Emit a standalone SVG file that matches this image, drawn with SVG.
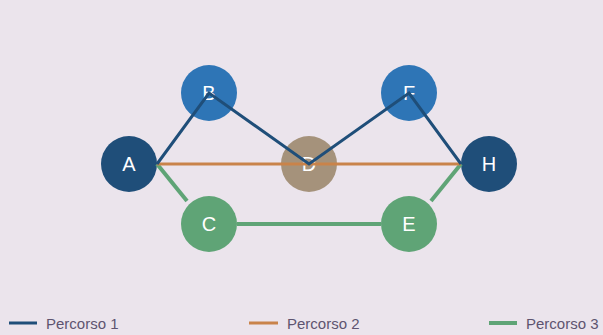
<svg xmlns="http://www.w3.org/2000/svg" width="603" height="335" viewBox="0 0 603 335">
<style>
.lbl{font-family:"Liberation Sans",Arial,sans-serif;font-size:20px;fill:#ffffff;text-anchor:middle}
.leg{font-family:"Liberation Sans",Arial,sans-serif;font-size:15px;fill:#5e5470}
.p1{stroke:#1f4e79;stroke-width:3;fill:none}
.p2{stroke:#c9834a;stroke-width:3;fill:none}
.p3{stroke:#5fa476;stroke-width:4;fill:none}
</style>
<rect width="603" height="335" fill="#ebe4ec"/>
<g id="node-A"><circle cx="129" cy="164" r="28" fill="#1f4e79"/><text class="lbl" x="129" y="171">A</text></g>
<g id="node-B"><circle cx="209" cy="93" r="28" fill="#2e75b6"/><text class="lbl" x="209" y="100">B</text></g>
<g id="node-C"><circle cx="209" cy="224" r="28" fill="#5fa476"/><text class="lbl" x="209" y="231">C</text></g>
<g id="node-D"><circle cx="309" cy="164" r="28" fill="#a5927b"/><text class="lbl" x="309" y="171">D</text></g>
<g id="node-E"><circle cx="409" cy="224" r="28" fill="#5fa476"/><text class="lbl" x="409" y="231">E</text></g>
<g id="node-F"><circle cx="409" cy="93" r="28" fill="#2e75b6"/><text class="lbl" x="409" y="100">F</text></g>
<g id="node-H"><circle cx="489" cy="164" r="28" fill="#1f4e79"/><text class="lbl" x="489" y="171">H</text></g>
<g id="connectors">
<polyline class="p3" points="157,164 187,201"/>
<line class="p3" x1="237" y1="224" x2="381" y2="224"/>
<polyline class="p3" points="431,201 461,164"/>
<line class="p2" x1="157" y1="164" x2="461" y2="164"/>
<polyline class="p1" points="157,164 209,93 309,164 409,93 461,164"/>
</g>
<g id="legend">
<line class="p1" x1="9" y1="323" x2="37" y2="323"/>
<text class="leg" x="46" y="329">Percorso 1</text>
<line class="p2" x1="249" y1="323" x2="278" y2="323"/>
<text class="leg" x="287" y="329">Percorso 2</text>
<line class="p3" x1="489" y1="323" x2="517" y2="323"/>
<text class="leg" x="526" y="329">Percorso 3</text>
</g>
</svg>
